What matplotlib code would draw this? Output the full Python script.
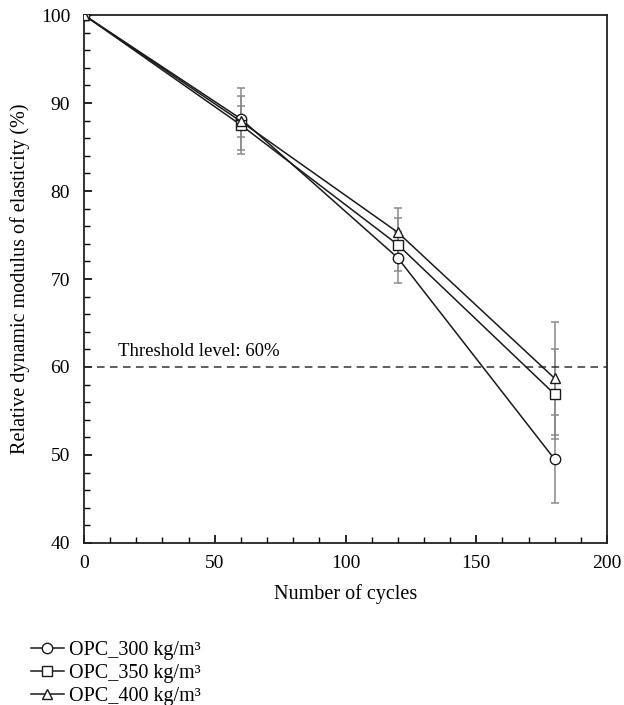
import matplotlib

matplotlib.use("Agg")
import matplotlib.pyplot as plt
from matplotlib.ticker import MultipleLocator

plt.rcParams["font.family"] = ["Liberation Serif", "DejaVu Serif"]

# ============================================================
# Data
# ============================================================
cycles = [0, 60, 120, 180]
series_labels = ["OPC_300 kg/m³", "OPC_350 kg/m³", "OPC_400 kg/m³"]
markers = ["o", "s", "^"]
opc_300 = [100, 88.2, 72.4, 49.5]
opc_350 = [100, 87.5, 73.9, 56.9]
opc_400 = [100, 87.9, 75.3, 58.7]
err_300 = [0, 3.5, 2.9, 5.0]
err_350 = [0, 3.3, 3.0, 5.1]
err_400 = [0, 1.8, 2.8, 6.4]
threshold = 60

values = [opc_300, opc_350, opc_400]
errors = [err_300, err_350, err_400]

# ============================================================
# Plot
# ============================================================
figure = plt.figure(figsize=(6.24, 7.05), dpi=100)
axis = figure.add_axes([0.1346, 0.2298, 0.8382, 0.7489])

for vals, errs in zip(values, errors):
    axis.errorbar(cycles[1:], vals[1:], yerr=errs[1:], fmt="none",
                  ecolor="#8a8a8a", elinewidth=1.1, capsize=3.2, capthick=1.1, zorder=1)

handles = []
for vals, marker, label in zip(values, markers, series_labels):
    (line,) = axis.plot(cycles, vals, color="#1a1a1a", linewidth=1.1, marker=marker,
                        markersize=7.5, markerfacecolor="white", markeredgecolor="#1a1a1a",
                        markeredgewidth=1.0, label=label, zorder=3)
    handles.append(line)

axis.axhline(threshold, color="#333333", linestyle=(0, (5, 3.5)), linewidth=1.1, zorder=2)
axis.text(13, threshold + 0.8, "Threshold level: 60%", fontsize=13.5, ha="left", va="bottom")

axis.set_xlim(0, 200)
axis.set_ylim(40, 100)
axis.xaxis.set_major_locator(MultipleLocator(50))
axis.xaxis.set_minor_locator(MultipleLocator(10))
axis.yaxis.set_major_locator(MultipleLocator(10))
axis.yaxis.set_minor_locator(MultipleLocator(2))
axis.tick_params(which="both", direction="in", top=False, right=False, labelsize=14)
axis.tick_params(which="major", length=6, width=1.2)
axis.tick_params(axis="y", which="major", pad=10)
axis.tick_params(axis="x", which="major", pad=9)
axis.tick_params(which="minor", length=4, width=1.0)
for spine in axis.spines.values():
    spine.set_linewidth(1.3)
    spine.set_color("#222222")

axis.set_xlabel("Number of cycles", fontsize=14.5, labelpad=8)
axis.set_ylabel("Relative dynamic modulus of elasticity (%)", fontsize=14.5, labelpad=8)

figure.legend(handles=handles, loc="upper left", bbox_to_anchor=(0.033, 0.105),
              frameon=False, fontsize=14.5, handlelength=1.65, handletextpad=0.25,
              labelspacing=0.2, borderpad=0)

figure.savefig("out.png", dpi=100)
plt.close(figure)
